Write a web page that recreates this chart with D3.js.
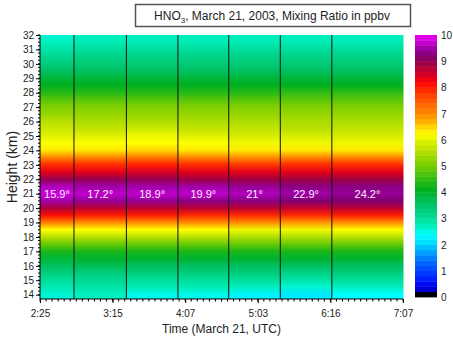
<!DOCTYPE html>
<html>
<head>
<meta charset="utf-8">
<script src="https://cdn.jsdelivr.net/npm/d3@7"></script>
<style>
	body { margin: 0; background: white; }
	text { font-family: "Liberation Sans", Arial, sans-serif; }
</style>
</head>
<body>
<div id="canvas"></div>
<script>
var w = 453;
var h = 340;

// heights of the profile levels (km)
var heights = [14,14.5,15,15.5,16,16.5,17,17.5,18,18.5,19,19.5,20,20.5,21,21.5,22,22.5,23,23.5,24,24.5,25,25.5,26,26.5,27,27.5,28,28.5,29,29.5,30,30.5,31,31.5,32];

// HNO3 mixing ratio (ppbv), one profile per elevation segment
var seg1 = [2.5,2.7,2.9,3.2,3.5,3.8,4.2,4.8,5.5,6.1,7.0,8.0,8.7,9.4,9.7,9.5,8.9,8.3,7.8,7.0,6.3,6.1,5.9,5.7,5.5,5.2,5.0,4.7,4.3,4.0,3.8,3.5,3.2,3.0,2.8,2.6,2.5];
var seg2 = [2.6,2.8,3.0,3.2,3.6,3.9,4.2,4.8,5.5,6.1,6.9,7.9,8.6,9.3,9.6,9.4,8.9,8.3,7.8,7.0,6.3,6.1,5.9,5.6,5.4,5.2,5.0,4.7,4.3,4.0,3.8,3.5,3.3,3.1,2.9,2.7,2.6];
var seg3 = [2.4,2.7,2.9,3.2,3.5,3.9,4.2,4.8,5.5,6.1,6.9,7.9,8.6,9.3,9.6,9.4,8.9,8.4,7.9,7.1,6.4,6.1,6.0,5.7,5.4,5.2,5.0,4.7,4.3,4.0,3.8,3.5,3.3,3.1,2.9,2.7,2.6];
var seg4 = [2.4,2.7,2.9,3.2,3.5,3.9,4.2,4.8,5.5,6.1,6.9,7.8,8.6,9.2,9.6,9.4,8.8,8.3,7.8,7.0,6.3,6.1,5.9,5.6,5.4,5.2,5.0,4.7,4.3,4.0,3.8,3.5,3.3,3.1,2.9,2.7,2.6];
var seg5 = [2.2,2.6,2.9,3.2,3.5,3.9,4.2,4.8,5.4,6.0,6.9,7.8,8.6,9.2,9.5,9.3,8.8,8.3,7.7,6.9,6.3,6.0,5.8,5.6,5.4,5.2,5.0,4.7,4.3,4.0,3.8,3.5,3.3,3.1,2.9,2.7,2.6];
var seg6 = [2.1,2.5,2.8,3.1,3.5,3.9,4.2,4.8,5.4,6.0,6.8,7.8,8.5,9.1,9.4,9.2,8.8,8.3,7.8,7.0,6.3,6.0,5.8,5.5,5.4,5.2,5.0,4.7,4.4,4.0,3.8,3.5,3.3,3.1,2.9,2.7,2.6];
var seg7 = [2.3,2.6,2.9,3.2,3.5,3.9,4.2,4.8,5.5,6.1,6.9,7.9,8.6,9.1,9.3,9.2,8.8,8.3,7.8,7.0,6.3,6.0,5.8,5.6,5.4,5.2,5.0,4.7,4.4,4.0,3.8,3.5,3.3,3.1,2.9,2.7,2.6];

// segment boundaries in axis units (0 = 2:25, 5 = 7:07)
var bounds = [0, 0.468, 1.19, 1.90, 2.60, 3.31, 4.02, 5];
var angles = ["15.9°","17.2°","18.9°","19.9°","21°","22.9°","24.2°"];
var timeLabels = ["2:25","3:15","4:07","5:03","6:16","7:07"];
var heightTicks = [14,15,16,17,18,19,20,21,22,23,24,25,26,27,28,29,30,31,32];
var colorTicks = [0,1,2,3,4,5,6,7,8,9,10];

var segments = [seg1, seg2, seg3, seg4, seg5, seg6, seg7];

var svg = d3.select("#canvas").append("svg")
				.attr("width", w)
				.attr("height", h)
				.style("background-color", "white");

var pLeft = 40, pRight = 403, pTop = 35, pBottom = 299;

var xScale = d3.scaleLinear()
				.domain([0, 5])
				.range([pLeft, pRight]);
var yScale = d3.scaleLinear()
				.domain([13.7, 32])
				.range([pBottom, pTop]);

var color = d3.scaleLinear()
				.domain([0, 0.15, 0.3, 0.6, 1, 1.3, 1.6, 2, 2.3, 2.6, 3, 3.5, 4, 4.5, 5, 5.5, 5.9, 6.1, 6.3, 6.6, 7, 7.5, 8, 8.2, 8.5, 8.8, 9.1, 9.4, 9.7, 10])
				.range(["#000000","#0000c0","#0000f0","#0020ff","#0050ff","#0070ff","#00a0ff","#00e0ff","#00ffff","#00f0c0","#00d890","#00c060","#00b020","#40c010","#80d000","#b8e000","#e0f000","#ffff00","#ffe800","#ffb000","#ff8000","#ff5000","#ff1000","#f00010","#c80030","#a00040","#800070","#a000a8","#d000e0","#ff00ff"])
				.clamp(true);

var defs = svg.append("defs");

// one vertical gradient per segment, stops taken from the profile
segments.forEach(function(seg, i){
	var y1 = yScale(heights[0]);
	var y2 = yScale(heights[heights.length - 1]);
	var grad = defs.append("linearGradient")
					.attr("id", "g" + i)
					.attr("gradientUnits", "userSpaceOnUse")
					.attr("x1", 0).attr("x2", 0)
					.attr("y1", y1)
					.attr("y2", y2);
	grad.selectAll("stop")
		.data(seg)
		.join("stop")
		.attr("offset", function(d, j){
			return (yScale(heights[j]) - y1) / (y2 - y1);
		})
		.attr("stop-color", function(d){
			return color(d);
		});
});

svg.selectAll("rect.seg")
	.data(segments)
	.join("rect")
	.attr("class", "seg")
	.attr("x", function(d, i){ return xScale(bounds[i]); })
	.attr("y", pTop)
	.attr("width", function(d, i){ return xScale(bounds[i + 1]) - xScale(bounds[i]) + 0.5; })
	.attr("height", pBottom - pTop)
	.attr("fill", function(d, i){ return "url(#g" + i + ")"; });

// boundary lines between segments
svg.selectAll("line.bound")
	.data(bounds.slice(1, -1))
	.join("line")
	.attr("class", "bound")
	.attr("x1", function(d){ return xScale(d); })
	.attr("x2", function(d){ return xScale(d); })
	.attr("y1", pTop)
	.attr("y2", pBottom)
	.attr("stroke", "#111")
	.attr("stroke-width", 1);

// elevation angle labels
svg.selectAll("text.angle")
	.data(angles)
	.join("text")
	.attr("class", "angle")
	.attr("x", function(d, i){ return (xScale(bounds[i]) + xScale(bounds[i + 1])) / 2; })
	.attr("y", yScale(21) + 4)
	.attr("text-anchor", "middle")
	.attr("font-size", 11)
	.attr("fill", "#fff0ff")
	.text(function(d){ return d; });

// axes
var yAxis = d3.axisLeft(yScale)
				.tickValues(heightTicks)
				.tickFormat(d3.format("d"))
				.tickSize(4)
				.tickPadding(2);
var gy = svg.append("g")
			.attr("transform", "translate(" + pLeft + ",0)")
			.call(yAxis);
gy.select(".domain").attr("d", "M0," + pTop + "V" + pBottom);
gy.selectAll("text").attr("font-size", 10).attr("font-family", "Liberation Sans, Arial").attr("fill", "#222");

var yMinor = d3.range(14, 32.01, 0.25);
gy.selectAll("line.minor")
	.data(yMinor)
	.join("line")
	.attr("class", "minor")
	.attr("x1", 0).attr("x2", -2)
	.attr("y1", function(d){ return yScale(d); })
	.attr("y2", function(d){ return yScale(d); })
	.attr("stroke", "#000");

var xAxis = d3.axisBottom(xScale)
				.tickValues(d3.range(0, 6))
				.tickFormat(function(d, i){ return timeLabels[i]; })
				.tickSize(4)
				.tickPadding(7);
var gx = svg.append("g")
			.attr("transform", "translate(0," + pBottom + ")")
			.call(xAxis);
gx.select(".domain").attr("d", "M" + pLeft + ",0H" + pRight);
gx.selectAll("text").attr("font-size", 10).attr("font-family", "Liberation Sans, Arial").attr("fill", "#222");

var xMinor = d3.range(0, 5.001, 1 / 12);
gx.selectAll("line.minor")
	.data(xMinor)
	.join("line")
	.attr("class", "minor")
	.attr("x1", function(d){ return xScale(d); })
	.attr("x2", function(d){ return xScale(d); })
	.attr("y1", 0).attr("y2", 2.5)
	.attr("stroke", "#000");

svg.append("text")
	.attr("transform", "translate(17," + ((pTop + pBottom) / 2) + ") rotate(-90)")
	.attr("text-anchor", "middle")
	.attr("font-size", 14)
	.attr("fill", "#222")
	.text("Height (km)");

svg.append("text")
	.attr("x", (pLeft + pRight) / 2)
	.attr("y", 333)
	.attr("text-anchor", "middle")
	.attr("font-size", 12)
	.attr("fill", "#222")
	.text("Time (March 21, UTC)");

// title box
svg.append("rect")
	.attr("x", 135.5)
	.attr("y", 4.5)
	.attr("width", 275)
	.attr("height", 22)
	.attr("fill", "white")
	.attr("stroke", "#555")
	.attr("stroke-width", 1.5);
var title = svg.append("text")
	.attr("x", 272)
	.attr("y", 20)
	.attr("text-anchor", "middle")
	.attr("font-size", 12)
	.attr("fill", "#222");
title.append("tspan").text("HNO");
title.append("tspan").attr("font-size", 8).attr("dy", 3).text("3");
title.append("tspan").attr("dy", -3).text(", March 21, 2003, Mixing Ratio in ppbv");

// colour bar
var cScale = d3.scaleLinear()
				.domain([0, 10])
				.range([297, 35]);
var steps = d3.range(0, 10, 0.2);
svg.selectAll("rect.cb")
	.data(steps)
	.join("rect")
	.attr("class", "cb")
	.attr("x", 415)
	.attr("width", 22)
	.attr("y", function(d){ return cScale(d + 0.2); })
	.attr("height", function(d){ return cScale(d) - cScale(d + 0.2) + 0.4; })
	.attr("fill", function(d){ return color(d); });

svg.selectAll("text.cbt")
	.data(colorTicks)
	.join("text")
	.attr("class", "cbt")
	.attr("x", 441)
	.attr("y", function(d){ return cScale(d) + 4; })
	.attr("font-size", 10)
	.attr("fill", "#222")
	.text(function(d){ return d; });
</script>
</body>
</html>
